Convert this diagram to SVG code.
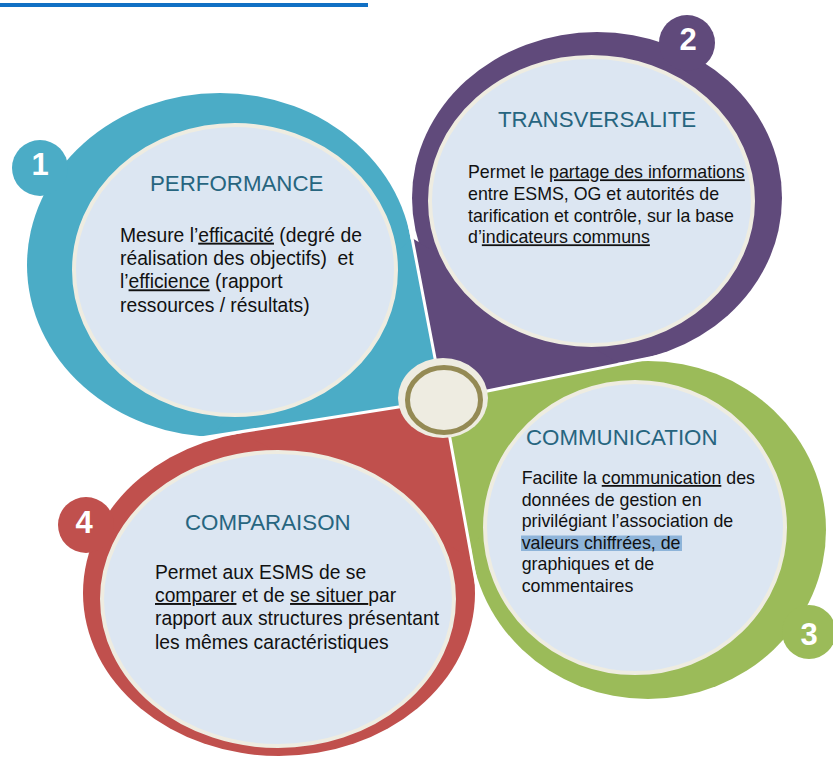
<svg xmlns="http://www.w3.org/2000/svg" width="833" height="758" viewBox="0 0 833 758">
<style>
.title{font-family:"Liberation Sans",Arial,sans-serif;font-size:22.3px;fill:#27657f}
.body{font-family:"Liberation Sans",Arial,sans-serif;fill:#111;white-space:pre}
.b19{font-size:19.3px}
.b18{font-size:17.8px}
.u{text-decoration:underline}
.inner{fill:#dce6f2;stroke:#eeece1;stroke-width:4}
.num{font-family:"Liberation Sans",Arial,sans-serif;font-weight:bold;font-size:31px;fill:#fff;text-anchor:middle}
.sep{stroke:#fff;stroke-width:3;fill:none;stroke-linecap:round}
</style>
<defs>
<clipPath id="cTeal"><polygon points="443,400 370.3,20 -10,20 -10,471.2"/></clipPath>
<clipPath id="cPurple"><polygon points="443,400 370.3,20 370.3,-10 843,-10 843,318.6"/></clipPath>
<clipPath id="cGreen"><polygon points="443,400 843,318.6 843,768 509.7,768"/></clipPath>
<clipPath id="cRed"><polygon points="443,400 509.7,768 -10,768 -10,471.2"/></clipPath>
</defs>
<rect width="833" height="758" fill="#fff"/>
<rect x="0" y="3" width="368" height="4" fill="#1170c4"/>

<g id="node-performance">
<g clip-path="url(#cTeal)" fill="#4bacc6">
<ellipse cx="220" cy="265" rx="193" ry="172"/>
<polygon points="443,400 412,238 210,436.6"/>
</g>
<circle cx="40" cy="168" r="28" fill="#4bacc6"/>
<text class="num" x="40" y="175">1</text>
<ellipse class="inner" cx="235" cy="270" rx="161" ry="145"/>
<text class="title" x="150" y="191">PERFORMANCE</text>
<text class="body b19" x="120" y="241.7">Mesure l’<tspan class="u">efficacité</tspan> (degré de</text>
<text class="body b19" x="120" y="265">réalisation des objectifs)  et</text>
<text class="body b19" x="120" y="288.3">l’<tspan class="u">efficience</tspan> (rapport</text>
<text class="body b19" x="120" y="311.7">ressources / résultats)</text>
</g>

<g id="node-transversalite">
<g clip-path="url(#cPurple)" fill="#604a7b">
<ellipse cx="597" cy="198" rx="185" ry="166"/>
<polygon points="443,400 412,238 620,364"/>
</g>
<circle cx="687" cy="43" r="28" fill="#604a7b"/>
<text class="num" x="688" y="50">2</text>
<ellipse class="inner" cx="591.5" cy="201" rx="161.5" ry="144"/>
<text class="title" x="498" y="127">TRANSVERSALITE</text>
<text class="body b18" x="468" y="178.3">Permet le <tspan class="u">partage des informations</tspan></text>
<text class="body b18" x="468" y="200">entre ESMS, OG et autorités de</text>
<text class="body b18" x="468" y="221.7">tarification et contrôle, sur la base</text>
<text class="body b18" x="468" y="243.3">d’<tspan class="u">indicateurs communs</tspan></text>
</g>

<g id="node-communication">
<g clip-path="url(#cGreen)" fill="#9bbb59">
<ellipse cx="648" cy="530" rx="178" ry="169"/>
<polygon points="443,400 600,368 470,550"/>
</g>
<circle cx="809" cy="632" r="27" fill="#9bbb59"/>
<text class="num" x="809" y="645">3</text>
<ellipse class="inner" cx="635" cy="527.5" rx="150" ry="145.5"/>
<text class="title" x="526" y="445">COMMUNICATION</text>
<rect x="521" y="535.5" width="161" height="15.5" fill="#8eb4d9"/>
<text class="body b18" x="521.7" y="484">Facilite la <tspan class="u">communication</tspan> des</text>
<text class="body b18" x="521.7" y="505.5">données de gestion en</text>
<text class="body b18" x="521.7" y="527">privilégiant l’association de</text>
<text class="body b18" x="521.7" y="548.5">valeurs chiffrées, de</text>
<text class="body b18" x="521.7" y="570">graphiques et de</text>
<text class="body b18" x="521.7" y="591.5">commentaires</text>
</g>

<g id="node-comparaison">
<g clip-path="url(#cRed)" fill="#c0504d">
<ellipse cx="279" cy="593" rx="196" ry="163"/>
<polygon points="443,400 471.6,558 240,432"/>
</g>
<circle cx="86" cy="525" r="28" fill="#c0504d"/>
<text class="num" x="84" y="533">4</text>
<ellipse class="inner" cx="278" cy="599" rx="176" ry="147"/>
<text class="title" x="185" y="530">COMPARAISON</text>
<text class="body b19" x="155" y="578.7">Permet aux ESMS de se</text>
<text class="body b19" x="155" y="602"><tspan class="u">comparer</tspan> et de <tspan class="u">se situer </tspan>par</text>
<text class="body b19" x="155" y="625.3">rapport aux structures présentant</text>
<text class="body b19" x="155" y="648.6">les mêmes caractéristiques</text>
</g>

<g id="connectors">
<line class="sep" x1="443" y1="400" x2="370.3" y2="20"/>
<line class="sep" x1="443" y1="400" x2="843" y2="318.6"/>
<line class="sep" x1="443" y1="400" x2="509.7" y2="768"/>
<line class="sep" x1="443" y1="400" x2="-10" y2="471.2"/>
</g>

<g id="node-center">
<ellipse cx="443" cy="398" rx="45" ry="40" fill="#eeece1"/>
<ellipse cx="444" cy="400" rx="36.5" ry="32.5" fill="#eeece1" stroke="#948a54" stroke-width="5"/>
</g>
</svg>
